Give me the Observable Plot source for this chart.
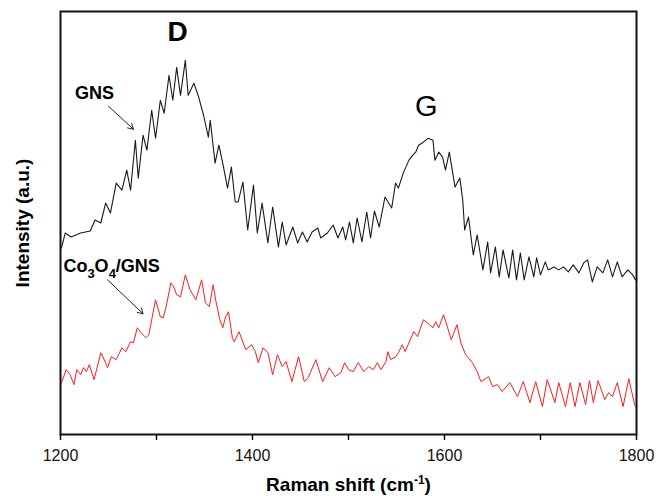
<!DOCTYPE html>
<html>
<head>
<meta charset="utf-8">
<script src="https://cdn.jsdelivr.net/npm/d3@7"></script>
<script src="https://cdn.jsdelivr.net/npm/@observablehq/plot@0.6"></script>
<style>
  html, body { margin: 0; padding: 0; background: #fff; }
  svg { display: block; }
</style>
</head>
<body>
<div id="chart"></div>
<script>
// Raman shift (cm-1) and intensity (a.u.) for GNS (black)
const gnsShift = [1201,1205,1211,1221,1231,1236,1242,1247,1252,1258,1264,1269,1273,1278,1281,1286,1290,1295,1299,1304,1308,1313,1317,1321,1325,1330,1333,1339,1344,1349,1354,1356,1361,1365,1369,1374,1378,1382,1385,1390,1395,1401,1405,1410,1416,1421,1427,1431,1435,1442,1447,1452,1457,1462,1468,1471,1478,1484,1489,1494,1497,1501,1505,1509,1514,1519,1523,1527,1532,1538,1545,1549,1552,1557,1563,1567,1570,1573,1578,1583,1588,1590,1594,1598,1601,1605,1611,1616,1619,1621,1625,1630,1634,1640,1645,1648,1653,1657,1661,1667,1671,1675,1679,1683,1688,1693,1696,1700,1705,1708,1714,1719,1724,1729,1734,1740,1745,1749,1754,1759,1765,1770,1775,1780,1785,1791,1796,1799];
const gnsIntensity = [187,202,198,202,204,215,212,232,222,252,245,265,245,295,257,300,285,325,297,335,322,360,335,368,340,375,340,352,338,320,298,315,272,290,272,247,268,233,233,253,205,250,202,232,192,228,188,213,190,208,192,203,193,203,207,197,202,210,197,208,195,213,192,217,193,223,197,224,208,238,227,252,247,262,275,280,283,290,293,297,295,275,283,278,265,283,248,257,235,205,218,180,200,165,193,162,188,158,185,157,185,155,182,155,178,158,177,160,173,165,168,165,168,163,170,162,172,175,153,168,162,175,158,173,158,165,160,155];

// Raman shift (cm-1) and intensity (a.u.) for Co3O4/GNS (red)
const coShift = [1201,1206,1210,1214,1217,1221,1224,1227,1230,1235,1242,1247,1249,1253,1258,1264,1268,1273,1276,1280,1284,1289,1292,1299,1304,1307,1310,1315,1318,1321,1325,1330,1335,1341,1347,1351,1355,1359,1362,1366,1369,1372,1375,1379,1381,1386,1393,1399,1403,1406,1411,1416,1421,1426,1431,1435,1441,1448,1454,1458,1466,1473,1480,1486,1492,1496,1500,1505,1510,1516,1521,1526,1530,1534,1539,1541,1544,1549,1552,1556,1559,1563,1568,1572,1578,1582,1588,1591,1594,1599,1603,1607,1613,1617,1622,1629,1634,1638,1646,1650,1655,1660,1668,1676,1682,1689,1695,1702,1707,1715,1719,1726,1731,1736,1741,1747,1751,1755,1760,1767,1771,1775,1780,1786,1792,1798,1799];
const coIntensity = [52,65,60,50,65,60,67,63,70,55,82,72,67,78,75,87,83,93,92,107,102,97,100,135,118,117,128,152,148,140,138,160,145,135,155,132,128,150,133,115,107,118,123,97,93,103,85,90,83,72,87,82,60,80,68,73,53,78,53,57,75,53,67,58,62,72,65,63,72,63,68,65,72,65,73,83,75,78,82,90,83,92,103,98,115,112,107,113,107,120,108,95,110,92,80,72,63,53,58,48,50,43,52,38,53,32,53,28,55,32,52,28,52,28,52,30,54,32,54,35,42,38,52,28,56,30,28];

const xTicks = [1200, 1300, 1400, 1500, 1600, 1700, 1800];
const xTickLabels = ["1200", "", "1400", "", "1600", "", "1800"];
const xDomain = [1200, 1800];
const yDomain = [0, 424];

const xAxisLabel = "Raman shift (cm-1)";
const yAxisLabel = "Intensity (a.u.)";

// peak labels and sample labels (position in data units)
const peakNames = ["D", "G"];
const peakX = [1322, 1581];
const peakY = [403, 329];
const sampleNames = ["GNS", "Co3O4/GNS"];
const sampleX = [1215, 1203];
const sampleY = [342, 169];
const arrowX1 = [1250, 1249];
const arrowY1 = [329, 155];
const arrowX2 = [1276, 1286];
const arrowY2 = [306, 121];

const gns = gnsShift.map((x, i) => ({x, y: gnsIntensity[i]}));
const co = coShift.map((x, i) => ({x, y: coIntensity[i]}));
const peaks = peakNames.map((name, i) => ({name, x: peakX[i], y: peakY[i]}));
const samples = sampleNames.map((name, i) => ({name, x: sampleX[i], y: sampleY[i]}));
const arrows = arrowX1.map((x1, i) => ({x1, y1: arrowY1[i], x2: arrowX2[i], y2: arrowY2[i]}));

const font = "'Liberation Sans', Arial, Helvetica, sans-serif";

const chart = Plot.plot({
  width: 656,
  height: 496,
  marginLeft: 60,
  marginRight: 20,
  marginTop: 11,
  marginBottom: 62,
  style: {fontFamily: font, background: "#fff", color: "#111"},
  x: {domain: xDomain},
  y: {domain: yDomain},
  marks: [
    Plot.axisX({
      ticks: xTicks,
      tickFormat: (d) => xTickLabels[xTicks.indexOf(d)],
      tickSize: 6,
      tickPadding: 9,
      fontSize: 16,
      stroke: "#111",
      strokeWidth: 1.5,
      label: null
    }),
    Plot.axisY({ticks: [], label: null, tickSize: 0}),
    Plot.line(gns, {x: "x", y: "y", stroke: "#1a1a1a", strokeWidth: 1.1}),
    Plot.line(co, {x: "x", y: "y", stroke: "#ff1a1a", strokeWidth: 1}),
    Plot.frame({stroke: "#111", strokeWidth: 2}),
    Plot.text(peaks.slice(0, 1), {x: "x", y: "y", text: "name", fontSize: 28, fontWeight: "bold", fill: "#000"}),
    Plot.text(peaks.slice(1), {x: "x", y: "y", text: "name", fontSize: 29, fill: "#000"}),
    Plot.text(samples, {x: "x", y: "y", text: "name", fontSize: 18, fontWeight: "bold", textAnchor: "start", fill: "#000"}),
    Plot.arrow(arrows, {x1: "x1", y1: "y1", x2: "x2", y2: "y2", stroke: "#222", strokeWidth: 1, headLength: 9}),
    Plot.text([xAxisLabel], {frameAnchor: "bottom", dy: 56, fontSize: 19, fontWeight: "bold", fill: "#000"}),
    Plot.text([yAxisLabel], {frameAnchor: "left", textAnchor: "middle", dx: -38, rotate: -90, fontSize: 19, fontWeight: "bold", fill: "#000"})
  ]
});

// rich text: subscripts / superscripts
function rich(t, parts) {
  t.textContent = "";
  parts.forEach(([s, dy, fs]) => {
    const ts = document.createElementNS("http://www.w3.org/2000/svg", "tspan");
    ts.textContent = s;
    if (dy) ts.setAttribute("dy", dy);
    if (fs) ts.setAttribute("font-size", fs);
    t.appendChild(ts);
  });
}
chart.querySelectorAll("text").forEach(t => {
  if (t.textContent === "Co3O4/GNS") {
    rich(t, [["Co", 0, null], ["3", 6, 13], ["O", -6, null], ["4", 6, 13], ["/GNS", -6, null]]);
  } else if (t.textContent === "Raman shift (cm-1)") {
    rich(t, [["Raman shift (cm", 0, null], ["-1", -7, 12], [")", 7, null]]);
  }
});

document.getElementById("chart").appendChild(chart);
</script>
</body>
</html>
